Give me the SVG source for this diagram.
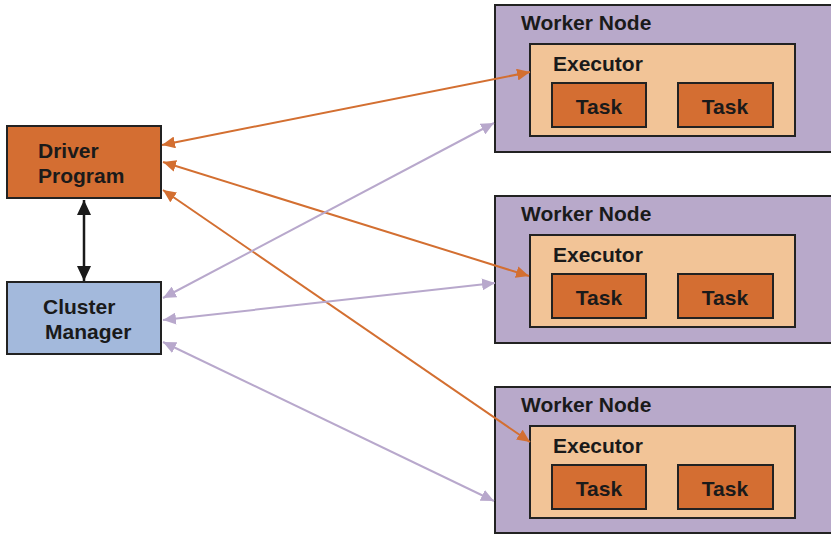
<svg xmlns="http://www.w3.org/2000/svg" width="831" height="534" viewBox="0 0 831 534">
<defs>
<style>
text{font-family:"Liberation Sans",Arial,sans-serif;font-weight:bold;fill:#1a1a1a}
.worker{fill:#B8A9CA;stroke:#222;stroke-width:2}
.exec{fill:#F2C497;stroke:#222;stroke-width:2}
.task{fill:#D46E32;stroke:#222;stroke-width:2}
.wl{font-size:21px}
.el{font-size:21px}
.tl{font-size:21px}
.nl{font-size:21px}
.or{stroke:#D36F31;stroke-width:2;fill:none;marker-start:url(#ao);marker-end:url(#ao)}
.pu{stroke:#B8A8CC;stroke-width:2;fill:none;marker-start:url(#ap);marker-end:url(#ap)}
</style>
<marker id="ao" markerUnits="userSpaceOnUse" markerWidth="14" markerHeight="12" refX="13" refY="6" orient="auto-start-reverse"><path d="M0,0 L13,6 L0,12 z" fill="#D36F31"/></marker>
<marker id="ap" markerUnits="userSpaceOnUse" markerWidth="14" markerHeight="12" refX="13" refY="6" orient="auto-start-reverse"><path d="M0,0 L13,6 L0,12 z" fill="#B8A8CC"/></marker>
<marker id="ab" markerUnits="userSpaceOnUse" markerWidth="16" markerHeight="14" refX="15" refY="7" orient="auto-start-reverse"><path d="M0,0 L15,7 L0,14 z" fill="#1a1a1a"/></marker>
</defs>
<rect width="831" height="534" fill="#fff"/>
<g id="driver">
<rect x="7" y="126" width="154" height="72" fill="#D46E32" stroke="#222" stroke-width="2"/>
<text class="nl" x="38" y="158">Driver</text>
<text class="nl" x="38" y="183">Program</text>
</g>
<g id="cluster-manager">
<rect x="7" y="282" width="154" height="72" fill="#A3B9DC" stroke="#222" stroke-width="2"/>
<text class="nl" x="43" y="314">Cluster</text>
<text class="nl" x="45" y="339">Manager</text>
</g>
<g id="worker1">
<rect class="worker" x="495" y="5" width="345" height="147"/>
<text class="wl" x="521" y="30">Worker Node</text>
<rect class="exec" x="530" y="44" width="265" height="92"/>
<text class="el" x="553" y="71">Executor</text>
<rect class="task" x="552" y="83" width="94" height="44"/>
<text class="tl" x="599" y="114" text-anchor="middle">Task</text>
<rect class="task" x="678" y="83" width="95" height="44"/>
<text class="tl" x="725" y="114" text-anchor="middle">Task</text>
</g>
<g id="worker2">
<rect class="worker" x="495" y="196" width="345" height="147"/>
<text class="wl" x="521" y="221">Worker Node</text>
<rect class="exec" x="530" y="235" width="265" height="92"/>
<text class="el" x="553" y="262">Executor</text>
<rect class="task" x="552" y="274" width="94" height="44"/>
<text class="tl" x="599" y="305" text-anchor="middle">Task</text>
<rect class="task" x="678" y="274" width="95" height="44"/>
<text class="tl" x="725" y="305" text-anchor="middle">Task</text>
</g>
<g id="worker3">
<rect class="worker" x="495" y="387" width="345" height="146"/>
<text class="wl" x="521" y="412">Worker Node</text>
<rect class="exec" x="530" y="426" width="265" height="92"/>
<text class="el" x="553" y="453">Executor</text>
<rect class="task" x="552" y="465" width="94" height="44"/>
<text class="tl" x="599" y="496" text-anchor="middle">Task</text>
<rect class="task" x="678" y="465" width="95" height="44"/>
<text class="tl" x="725" y="496" text-anchor="middle">Task</text>
</g>
<g id="connectors">
<line x1="84" y1="200" x2="84" y2="281" stroke="#1a1a1a" stroke-width="2.5" marker-start="url(#ab)" marker-end="url(#ab)"/>
<line class="or" x1="162" y1="145" x2="530" y2="72"/>
<line class="or" x1="163" y1="162" x2="529" y2="276"/>
<line class="or" x1="163" y1="190" x2="530" y2="442"/>
<line class="pu" x1="163" y1="298" x2="494" y2="123"/>
<line class="pu" x1="163" y1="320" x2="495" y2="283"/>
<line class="pu" x1="163" y1="342" x2="494" y2="501"/>
</g>
</svg>
